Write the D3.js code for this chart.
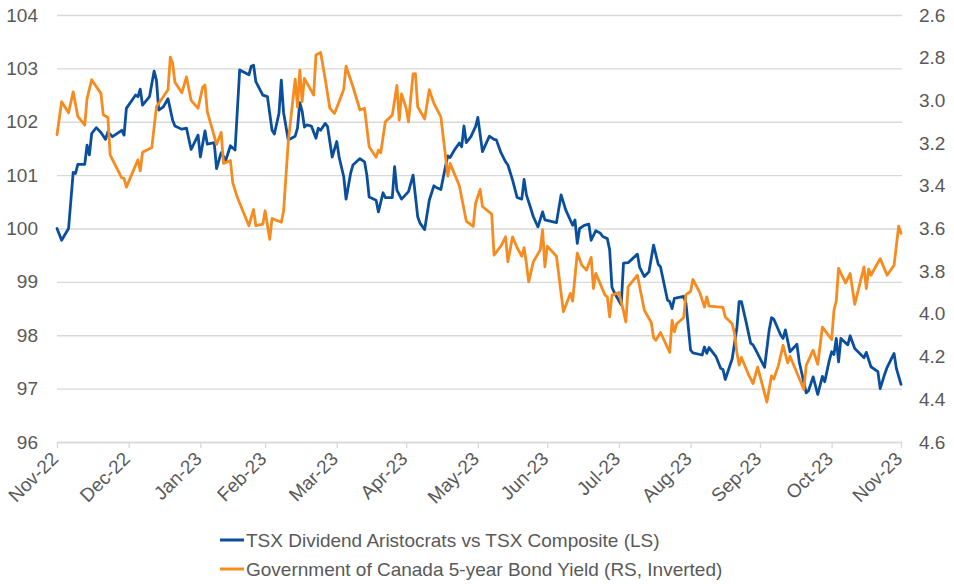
<!DOCTYPE html>
<html>
<head>
<meta charset="utf-8">
<script src="https://cdn.jsdelivr.net/npm/d3@7"></script>
<style>
  html, body { margin: 0; padding: 0; background: #fff; }
  svg { display: block; }
  text { font-family: "Liberation Sans", Arial, sans-serif; fill: #595959; }
</style>
</head>
<body>
<svg id="chart" width="954" height="584"></svg>
<script>
// ---------- DATA ----------
const seriesNames = [
  "TSX Dividend Aristocrats vs TSX Composite (LS)",
  "Government of Canada 5-year Bond Yield (RS, Inverted)"
];

const tickDates = ["2022-11-30","2022-12-31","2023-01-31","2023-02-28","2023-03-31","2023-04-30",
  "2023-05-31","2023-06-30","2023-07-31","2023-08-31","2023-09-30","2023-10-31","2023-11-30"];
const tickLabels = ["Nov-22","Dec-22","Jan-23","Feb-23","Mar-23","Apr-23","May-23","Jun-23",
  "Jul-23","Aug-23","Sep-23","Oct-23","Nov-23"];
const leftTicks = [96, 97, 98, 99, 100, 101, 102, 103, 104];
const rightTicks = [2.6, 2.8, 3.0, 3.2, 3.4, 3.6, 3.8, 4.0, 4.2, 4.4, 4.6];

const tsxDates = ["2022-11-30","2022-12-02","2022-12-05","2022-12-07","2022-12-08","2022-12-09","2022-12-12","2022-12-13","2022-12-14","2022-12-15","2022-12-17","2022-12-19","2022-12-21","2022-12-22","2022-12-24","2022-12-28","2022-12-29","2022-12-30",
"2023-01-03","2023-01-04","2023-01-05","2023-01-06","2023-01-09","2023-01-11","2023-01-12","2023-01-13","2023-01-15","2023-01-17","2023-01-19","2023-01-20","2023-01-23","2023-01-25","2023-01-27","2023-01-30","2023-01-31",
"2023-02-02","2023-02-03","2023-02-06","2023-02-07","2023-02-09","2023-02-11","2023-02-13","2023-02-15","2023-02-17","2023-02-21","2023-02-22","2023-02-23","2023-02-24","2023-02-27",
"2023-03-01","2023-03-03","2023-03-04","2023-03-06","2023-03-07","2023-03-08","2023-03-10","2023-03-13","2023-03-14","2023-03-15","2023-03-16","2023-03-17","2023-03-18","2023-03-20","2023-03-22","2023-03-23","2023-03-24","2023-03-26","2023-03-27","2023-03-29","2023-03-31",
"2023-04-01","2023-04-03","2023-04-04","2023-04-06","2023-04-07","2023-04-10","2023-04-12","2023-04-13","2023-04-14","2023-04-17","2023-04-18","2023-04-20","2023-04-21","2023-04-24","2023-04-25","2023-04-26","2023-04-28",
"2023-05-01","2023-05-03","2023-05-05","2023-05-06","2023-05-08","2023-05-10","2023-05-12","2023-05-13","2023-05-15","2023-05-17","2023-05-18","2023-05-19","2023-05-21","2023-05-23","2023-05-24","2023-05-25","2023-05-26","2023-05-28","2023-05-30","2023-05-31",
"2023-06-02","2023-06-05","2023-06-07","2023-06-08","2023-06-10","2023-06-12","2023-06-13","2023-06-15","2023-06-17","2023-06-19","2023-06-20","2023-06-21","2023-06-23","2023-06-24","2023-06-26","2023-06-28","2023-06-29",
"2023-07-04","2023-07-06","2023-07-08","2023-07-11","2023-07-12","2023-07-13","2023-07-14","2023-07-16","2023-07-18","2023-07-19","2023-07-21","2023-07-23","2023-07-24","2023-07-26","2023-07-27","2023-07-28","2023-07-29",
"2023-08-01","2023-08-02","2023-08-04","2023-08-06","2023-08-08","2023-08-09","2023-08-11","2023-08-13","2023-08-15","2023-08-17","2023-08-18","2023-08-21","2023-08-22","2023-08-23","2023-08-24","2023-08-28","2023-08-29","2023-08-31",
"2023-09-01","2023-09-05","2023-09-06","2023-09-07","2023-09-08","2023-09-11","2023-09-13","2023-09-14","2023-09-15","2023-09-18","2023-09-20","2023-09-21","2023-09-22","2023-09-24","2023-09-26","2023-09-27","2023-09-28",
"2023-10-02","2023-10-04","2023-10-05","2023-10-06","2023-10-09","2023-10-10","2023-10-11","2023-10-13","2023-10-16","2023-10-17","2023-10-20","2023-10-21","2023-10-23","2023-10-25","2023-10-27","2023-10-28","2023-10-30","2023-10-31",
"2023-11-01","2023-11-02","2023-11-03","2023-11-04","2023-11-07","2023-11-08","2023-11-10","2023-11-14","2023-11-15","2023-11-17","2023-11-20","2023-11-21","2023-11-23","2023-11-24","2023-11-27","2023-11-28","2023-11-30"];
const tsxValues = [100.0,99.78,100.0,101.05,101.03,101.2,101.2,101.56,101.38,101.78,101.89,101.8,101.67,101.81,101.72,101.84,101.75,102.25,
102.5,102.47,102.61,102.31,102.47,102.95,102.78,102.22,102.28,102.43,102.03,101.92,101.86,101.88,101.48,101.75,101.34,
101.83,101.58,101.61,101.12,101.42,101.28,101.55,101.47,102.97,102.88,103.04,103.06,102.75,102.5,
102.47,101.84,101.77,102.16,102.78,102.17,101.66,101.73,101.88,102.36,102.2,101.9,101.94,101.92,101.69,101.88,101.84,101.97,101.91,101.34,101.63,
101.34,100.97,100.55,101.04,101.19,101.31,101.25,101.0,100.59,100.53,100.31,100.67,100.58,100.58,101.16,100.72,100.55,
100.69,101.0,100.22,100.1,99.98,100.53,100.8,100.77,100.73,101.16,101.36,101.33,101.48,101.6,101.53,101.92,101.61,101.72,101.91,102.08,
101.44,101.73,101.67,101.66,101.42,101.25,101.19,100.91,100.58,100.55,100.92,100.63,100.36,100.22,100.03,100.31,100.16,
100.11,100.63,100.35,100.06,100.16,99.72,100.0,100.06,100.08,99.78,99.96,99.91,99.85,99.81,99.6,98.9,98.8,
98.57,99.35,99.36,99.44,99.52,99.27,99.1,99.19,99.69,99.33,99.28,98.66,98.63,98.5,98.69,98.73,98.6,97.72,
97.67,97.63,97.78,97.66,97.77,97.6,97.38,97.36,97.17,97.56,98.13,98.63,98.63,98.25,97.85,97.82,97.74,
97.4,98.1,98.33,98.3,98.0,97.94,98.1,97.69,97.83,97.5,96.92,96.96,97.22,96.89,97.23,97.13,97.53,97.69,
97.64,97.94,97.5,97.94,97.82,97.99,97.75,97.58,97.68,97.41,97.32,97.0,97.28,97.4,97.66,97.38,97.08];

const yieldDates = ["2022-11-30","2022-12-02","2022-12-05","2022-12-07","2022-12-09","2022-12-12","2022-12-13","2022-12-15","2022-12-19","2022-12-20","2022-12-22","2022-12-23","2022-12-28","2022-12-29","2022-12-30",
"2023-01-04","2023-01-05","2023-01-06","2023-01-10","2023-01-12","2023-01-17","2023-01-18","2023-01-19","2023-01-20","2023-01-23","2023-01-25","2023-01-27","2023-01-30",
"2023-02-01","2023-02-02","2023-02-03","2023-02-07","2023-02-09","2023-02-10","2023-02-13","2023-02-14","2023-02-16","2023-02-21","2023-02-23","2023-02-24","2023-02-27","2023-02-28",
"2023-03-02","2023-03-03","2023-03-07","2023-03-08","2023-03-10","2023-03-13","2023-03-14","2023-03-15","2023-03-16","2023-03-17","2023-03-21","2023-03-22","2023-03-24","2023-03-26","2023-03-28","2023-03-30",
"2023-04-01","2023-04-03","2023-04-04","2023-04-07","2023-04-10","2023-04-12","2023-04-14","2023-04-17","2023-04-18","2023-04-19","2023-04-21","2023-04-24","2023-04-26","2023-04-27","2023-04-28","2023-04-30",
"2023-05-01","2023-05-03","2023-05-04","2023-05-05","2023-05-08","2023-05-10","2023-05-12","2023-05-15","2023-05-17","2023-05-18","2023-05-19","2023-05-23","2023-05-26","2023-05-29","2023-05-30",
"2023-06-01","2023-06-02","2023-06-06","2023-06-07","2023-06-10","2023-06-12","2023-06-13","2023-06-15","2023-06-17","2023-06-19","2023-06-20","2023-06-21","2023-06-22","2023-06-24","2023-06-27","2023-06-28","2023-06-29","2023-06-30",
"2023-07-04","2023-07-07","2023-07-10","2023-07-11","2023-07-13","2023-07-15","2023-07-17","2023-07-19","2023-07-20","2023-07-21","2023-07-25","2023-07-26","2023-07-27","2023-07-28","2023-07-31",
"2023-08-02","2023-08-03","2023-08-04","2023-08-08","2023-08-11","2023-08-14","2023-08-15","2023-08-16","2023-08-18","2023-08-22","2023-08-23","2023-08-24","2023-08-25","2023-08-28","2023-08-29","2023-08-31",
"2023-09-01","2023-09-04","2023-09-06","2023-09-07","2023-09-08","2023-09-13","2023-09-14","2023-09-15","2023-09-18","2023-09-19","2023-09-20","2023-09-21","2023-09-22","2023-09-25","2023-09-27","2023-09-29",
"2023-10-03","2023-10-05","2023-10-06","2023-10-08","2023-10-10","2023-10-12","2023-10-13","2023-10-19","2023-10-20","2023-10-23","2023-10-25","2023-10-27","2023-10-31",
"2023-11-01","2023-11-02","2023-11-03","2023-11-06","2023-11-08","2023-11-10","2023-11-14","2023-11-15","2023-11-16","2023-11-17","2023-11-21","2023-11-24","2023-11-27","2023-11-29","2023-11-30"];
const yieldValues = [3.16,3.006,3.058,2.96,3.075,3.116,2.992,2.903,2.967,3.067,3.08,3.256,3.363,3.365,3.406,
3.278,3.33,3.243,3.221,3.03,2.95,2.797,2.826,2.915,2.964,2.89,3.0,3.037,
2.938,2.928,3.053,3.206,3.15,3.295,3.282,3.385,3.455,3.587,3.511,3.587,3.58,3.517,
3.651,3.553,3.571,3.518,3.195,2.9,3.03,2.858,3.006,2.897,2.975,2.787,2.775,2.901,3.037,3.061,
3.006,2.948,2.84,2.936,3.045,3.037,3.217,3.266,3.233,3.245,3.1,3.069,2.93,3.092,2.97,3.037,
3.1,2.876,2.875,3.03,3.087,2.95,3.014,3.077,3.26,3.355,3.295,3.4,3.565,3.59,3.483,
3.417,3.497,3.533,3.725,3.682,3.639,3.756,3.639,3.69,3.73,3.69,3.764,3.85,3.756,3.7,3.605,3.78,3.683,
3.73,3.99,3.904,3.94,3.715,3.772,3.795,3.735,3.881,3.81,3.912,3.92,4.014,3.912,3.9,
3.987,4.038,3.872,3.819,3.983,4.04,4.112,4.123,4.087,4.18,4.03,4.084,4.046,4.018,3.91,3.895,
3.839,3.9,3.968,3.92,3.964,3.968,3.97,4.014,4.046,4.092,4.178,4.24,4.204,4.283,4.326,4.249,
4.413,4.29,4.305,4.241,4.147,4.23,4.198,4.354,4.241,4.17,4.236,4.062,4.12,
3.983,3.94,3.787,3.855,3.811,3.955,3.78,3.881,3.79,3.819,3.741,3.819,3.772,3.589,3.623];

// ---------- CHART ----------
const parse = d3.timeParse("%Y-%m-%d");
const svg = d3.select("#chart");
const plot = { left: 57, right: 902, top: 15, bottom: 442 };
const blue = "#0a4f9e", orange = "#f68b1f", gridColor = "#d9d9d9";

const x = d3.scaleTime()
  .domain([parse(tickDates[0]), parse(tickDates[tickDates.length - 1])])
  .range([plot.left, plot.right - 1]);
const yL = d3.scaleLinear().domain([96, 104]).range([plot.bottom, plot.top]);
const yR = d3.scaleLinear().domain([4.6, 2.6]).range([plot.bottom, plot.top]);

// gridlines (left axis)
svg.append("g")
  .attr("transform", `translate(${plot.left},0)`)
  .call(d3.axisLeft(yL).tickValues(leftTicks).tickSize(-(plot.right - plot.left)).tickFormat(""))
  .call(g => g.select(".domain").remove())
  .call(g => g.selectAll("line").attr("stroke", gridColor).attr("stroke-width", 1.3));

// left axis labels
svg.append("g")
  .attr("transform", `translate(${plot.left - 19},0)`)
  .call(d3.axisLeft(yL).tickValues(leftTicks).tickSize(0).tickPadding(0).tickFormat(d3.format("d")))
  .call(g => g.select(".domain").remove())
  .call(g => g.selectAll("text").attr("font-size", 19).attr("fill", "#595959")
    .attr("font-family", '"Liberation Sans", Arial, sans-serif'));

// right axis labels
svg.append("g")
  .attr("transform", `translate(${plot.right + 17},0)`)
  .call(d3.axisRight(yR).tickValues(rightTicks).tickSize(0).tickPadding(0).tickFormat(d3.format(".1f")))
  .call(g => g.select(".domain").remove())
  .call(g => g.selectAll("text").attr("font-size", 19).attr("fill", "#595959")
    .attr("font-family", '"Liberation Sans", Arial, sans-serif'));

// bottom axis
const xAxis = svg.append("g")
  .attr("transform", `translate(0,${plot.bottom})`)
  .call(d3.axisBottom(x).tickValues(tickDates.map(parse)).tickSize(6).tickFormat((d, i) => tickLabels[i]))
  .call(g => g.select(".domain").attr("stroke", gridColor).attr("stroke-width", 1.3)
    .attr("d", `M${plot.left},0.5H${plot.right}`))
  .call(g => g.selectAll(".tick line").attr("stroke", gridColor).attr("stroke-width", 1.3));
xAxis.selectAll(".tick text")
  .attr("font-size", 19)
  .attr("fill", "#595959")
  .attr("font-family", '"Liberation Sans", Arial, sans-serif')
  .attr("text-anchor", "end")
  .attr("dy", 0)
  .attr("y", 0)
  .attr("transform", "translate(2,18) rotate(-45)");

// lines
const tsxData = tsxDates.map((d, i) => ({ date: parse(d), value: tsxValues[i] }));
const yieldData = yieldDates.map((d, i) => ({ date: parse(d), value: yieldValues[i] }));

svg.append("path")
  .datum(tsxData)
  .attr("fill", "none").attr("stroke", blue).attr("stroke-width", 2.8)
  .attr("stroke-linejoin", "round").attr("stroke-linecap", "round")
  .attr("d", d3.line().x(d => x(d.date)).y(d => yL(d.value)));

svg.append("path")
  .datum(yieldData)
  .attr("fill", "none").attr("stroke", orange).attr("stroke-width", 2.8)
  .attr("stroke-linejoin", "round").attr("stroke-linecap", "round")
  .attr("d", d3.line().x(d => x(d.date)).y(d => yR(d.value)));

// legend
const legend = svg.append("g");
[[blue, 540], [orange, 569]].forEach(([c, yy], i) => {
  legend.append("line").attr("x1", 220).attr("x2", 244).attr("y1", yy).attr("y2", yy)
    .attr("stroke", c).attr("stroke-width", 3);
  legend.append("text").attr("x", 246).attr("y", yy).attr("dy", "0.35em")
    .attr("font-size", 19).text(seriesNames[i]);
});
</script>
</body>
</html>
